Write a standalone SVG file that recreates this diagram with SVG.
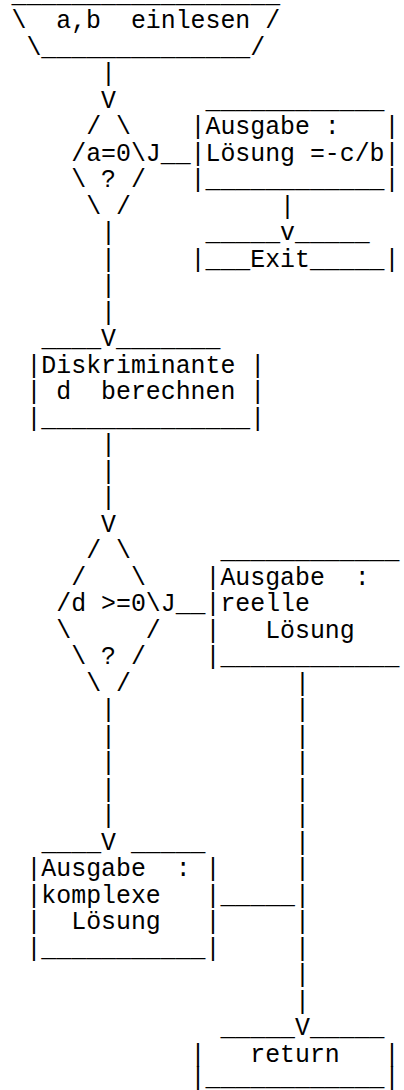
<svg xmlns="http://www.w3.org/2000/svg" width="404" height="1090" viewBox="0 0 404 1090" xml:space="preserve">
  <style>
    text { font-family: "Liberation Mono", "Courier New", monospace; font-size: 24.87px; fill: #000; white-space: pre; }
  </style>
  <rect width="404" height="1090" fill="#fff"/>

  <!-- character grid: column c starts at x = 11.54 + 14.92*c, row r baseline y = 1.5 + 26.5*r -->

  <g id="input">
    <text x="11.54" y="1.5">__________________</text>
    <text x="11.54" y="28">\  a,b  einlesen /</text>
    <text x="26.46" y="54.5">\______________/</text>
  </g>

  <g id="decision-a">
    <text x="86.14" y="134">/ \</text>
    <text x="71.22" y="160.5">/a=0\</text>
    <text x="71.22" y="187">\ ? /</text>
    <text x="86.14" y="213.5">\ /</text>
  </g>

  <g id="output-linear">
    <text x="205.50" y="107.5">____________</text>
    <text x="190.58" y="134">|Ausgabe :   |</text>
    <text x="190.58" y="160.5">|Lösung =-c/b|</text>
    <text x="190.58" y="187">|____________|</text>
  </g>

  <g id="exit">
    <text x="205.50" y="240">_____</text>
    <text x="295.02" y="240">_____</text>
    <text x="190.58" y="266.5">|___Exit_____|</text>
  </g>

  <g id="discriminant">
    <text x="41.38" y="346">____</text>
    <text x="115.98" y="346">_______</text>
    <text x="26.46" y="372.5">|Diskriminante |</text>
    <text x="26.46" y="399">| d  berechnen |</text>
    <text x="26.46" y="425.5">|______________|</text>
  </g>

  <g id="decision-d">
    <text x="86.14" y="558">/ \</text>
    <text x="71.22" y="584.5">/   \</text>
    <text x="56.30" y="611">/d >=0\</text>
    <text x="56.30" y="637.5">\     /</text>
    <text x="71.22" y="664">\ ? /</text>
    <text x="86.14" y="690.5">\ /</text>
  </g>

  <g id="output-real">
    <text x="220.42" y="558">____________</text>
    <text x="205.50" y="584.5">|Ausgabe  :</text>
    <text x="205.50" y="611">|reelle</text>
    <text x="205.50" y="637.5">|   Lösung</text>
    <text x="205.50" y="664">|____________</text>
  </g>

  <g id="output-complex">
    <text x="41.38" y="849.5">____</text>
    <text x="130.90" y="849.5">_____</text>
    <text x="26.46" y="876">|Ausgabe  : |</text>
    <text x="26.46" y="902.5">|komplexe   |</text>
    <text x="26.46" y="929">|  Lösung   |</text>
    <text x="26.46" y="955.5">|___________|</text>
  </g>

  <g id="return">
    <text x="220.42" y="1035">_____</text>
    <text x="309.94" y="1035">_____</text>
    <text x="190.58" y="1061.5">|   return   |</text>
    <text x="190.58" y="1085">|____________|</text>
  </g>

  <g id="connectors">
    <!-- input -> decision a -->
    <text x="101.06" y="81">|</text>
    <text x="101.06" y="107.5">V</text>
    <!-- yes branch -> linear output -> exit -->
    <text x="145.82" y="160.5">J__</text>
    <text x="280.10" y="213.5">|</text>
    <text x="280.10" y="240">v</text>
    <!-- no branch -> discriminant -->
    <text x="101.06" y="240">|</text>
    <text x="101.06" y="266.5">|</text>
    <text x="101.06" y="293">|</text>
    <text x="101.06" y="319.5">|</text>
    <text x="101.06" y="346">V</text>
    <!-- discriminant -> decision d -->
    <text x="101.06" y="452">|</text>
    <text x="101.06" y="478.5">|</text>
    <text x="101.06" y="505">|</text>
    <text x="101.06" y="531.5">V</text>
    <!-- yes branch -> real output -->
    <text x="160.74" y="611">J__</text>
    <!-- no branch -> complex output -->
    <text x="101.06" y="717">|</text>
    <text x="101.06" y="743.5">|</text>
    <text x="101.06" y="770">|</text>
    <text x="101.06" y="796.5">|</text>
    <text x="101.06" y="823">|</text>
    <text x="101.06" y="849.5">V</text>
    <!-- real output and complex output -> return -->
    <text x="295.02" y="690.5">|</text>
    <text x="295.02" y="717">|</text>
    <text x="295.02" y="743.5">|</text>
    <text x="295.02" y="770">|</text>
    <text x="295.02" y="796.5">|</text>
    <text x="295.02" y="823">|</text>
    <text x="295.02" y="849.5">|</text>
    <text x="295.02" y="876">|</text>
    <text x="220.42" y="902.5">_____|</text>
    <text x="295.02" y="929">|</text>
    <text x="295.02" y="955.5">|</text>
    <text x="295.02" y="982">|</text>
    <text x="295.02" y="1008.5">|</text>
    <text x="295.02" y="1035">V</text>
  </g>
</svg>
